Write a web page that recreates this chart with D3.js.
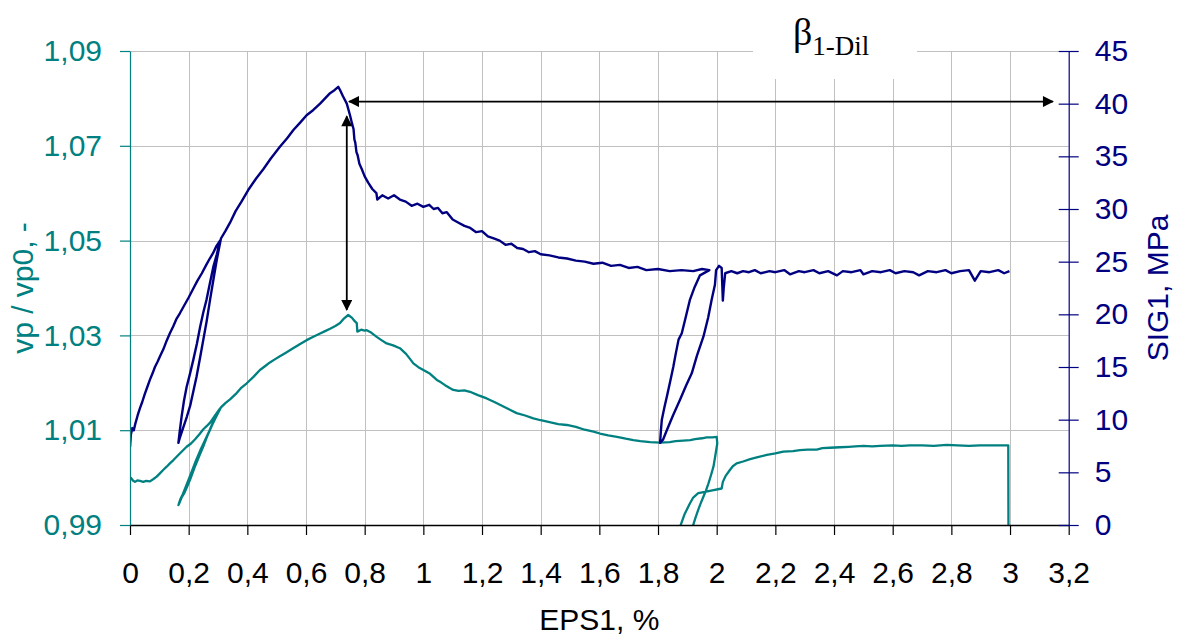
<!DOCTYPE html>
<html>
<head>
<meta charset="utf-8">
<script src="https://cdn.jsdelivr.net/npm/d3@7"></script>
<style>
  html, body { margin: 0; padding: 0; background: #fff; }
  svg { display: block; }
  text { font-family: "Liberation Sans", Arial, sans-serif; }
  text.serif, text.serif tspan { font-family: "Liberation Serif", "Times New Roman", serif; }
</style>
</head>
<body>
<svg id="chart" width="1181" height="637"></svg>
<script>
// Axis ticks
const epsTicks = [0, 0.2, 0.4, 0.6, 0.8, 1, 1.2, 1.4, 1.6, 1.8, 2, 2.2, 2.4, 2.6, 2.8, 3, 3.2];
const vpTicks = [0.99, 1.01, 1.03, 1.05, 1.07, 1.09];
const sigTicks = [0, 5, 10, 15, 20, 25, 30, 35, 40, 45];

// SIG1 [MPa] against EPS1 [%], including the two unload/reload loops
const sig1Curve = [
  [0, 7.4], [0.003, 8.6], [0.008, 9.2], [0.013, 9.0], [0.018, 9.6], [0.026, 10.4], [0.034, 11.1],
  [0.042, 11.7], [0.05, 12.4], [0.059, 13.1], [0.068, 13.8], [0.077, 14.4], [0.085, 15.0],
  [0.094, 15.5], [0.102, 16.0], [0.114, 16.7], [0.125, 17.5], [0.136, 18.2], [0.148, 18.9],
  [0.159, 19.6], [0.17, 20.1], [0.18, 20.6], [0.19, 21.1], [0.2, 21.6], [0.215, 22.4],
  [0.23, 23.2], [0.245, 23.9], [0.26, 24.7], [0.272, 25.3], [0.283, 25.8], [0.295, 26.5], [0.307, 27.0],
  [0.296, 25.7], [0.284, 24.5], [0.272, 22.9], [0.261, 21.4], [0.25, 20.2], [0.239, 18.8],
  [0.228, 17.2], [0.216, 15.7], [0.204, 14.3], [0.193, 13.1], [0.184, 11.8], [0.176, 10.3],
  [0.17, 9.0], [0.165, 7.8],
  [0.169, 8.2], [0.182, 9.3], [0.194, 10.3], [0.205, 11.3], [0.216, 12.7], [0.227, 14.1],
  [0.239, 15.9], [0.25, 17.6], [0.261, 19.3], [0.273, 21.4], [0.285, 23.4], [0.296, 25.2], [0.31, 27.2],
  [0.325, 27.9], [0.341, 28.7], [0.36, 29.8], [0.38, 30.7], [0.403, 31.8], [0.43, 32.9],
  [0.455, 33.8], [0.48, 34.8], [0.511, 35.9], [0.535, 36.7], [0.557, 37.5], [0.58, 38.2],
  [0.602, 38.9], [0.625, 39.4], [0.648, 40.0], [0.665, 40.5], [0.682, 41.0], [0.698, 41.3],
  [0.71, 41.6], [0.716, 41.3], [0.726, 40.7], [0.739, 40.0], [0.75, 38.9], [0.757, 38.1],
  [0.762, 37.6], [0.765, 36.6], [0.768, 36.3], [0.772, 35.4], [0.776, 35.1], [0.782, 34.3],
  [0.79, 33.8], [0.8, 33.1], [0.812, 32.5], [0.826, 31.9], [0.84, 31.5], [0.843, 30.9],
  [0.86, 31.3], [0.88, 31.0], [0.9, 31.3], [0.92, 30.9], [0.94, 30.7], [0.96, 30.3],
  [0.98, 30.5], [1.0, 30.2], [1.02, 30.4], [1.035, 30.0], [1.05, 30.1], [1.065, 29.6],
  [1.08, 29.7], [1.1, 29.0], [1.12, 28.7], [1.14, 28.4], [1.16, 28.2], [1.18, 27.8],
  [1.2, 27.9], [1.22, 27.4], [1.24, 27.2], [1.26, 27.0], [1.28, 26.6], [1.3, 26.7],
  [1.32, 26.3], [1.34, 26.2], [1.36, 25.9], [1.38, 26.0], [1.4, 25.7], [1.43, 25.6],
  [1.46, 25.4], [1.49, 25.3], [1.52, 25.1], [1.55, 25.0], [1.58, 24.8], [1.61, 24.9],
  [1.64, 24.6], [1.67, 24.7], [1.7, 24.4], [1.73, 24.5], [1.76, 24.2], [1.8, 24.3],
  [1.84, 24.1], [1.88, 24.2], [1.92, 24.1], [1.95, 24.3], [1.975, 24.2], [1.943, 23.7],
  [1.925, 22.6], [1.909, 21.4], [1.895, 19.8], [1.881, 18.2], [1.87, 17.6], [1.86, 16.2],
  [1.852, 15.0], [1.842, 13.7], [1.831, 12.3], [1.822, 11.2], [1.813, 10.0], [1.81, 9.0], [1.807, 7.8],
  [1.817, 8.1], [1.83, 9.0], [1.851, 10.4], [1.875, 11.9], [1.895, 13.2], [1.915, 14.4],
  [1.933, 16.1], [1.955, 17.9], [1.971, 19.7], [1.983, 21.4], [1.994, 22.8], [1.998, 24.2],
  [2.008, 24.6], [2.017, 24.4], [2.021, 21.3], [2.024, 22.5], [2.029, 23.9],
  [2.05, 24.1], [2.07, 23.9], [2.09, 24.1], [2.11, 24.0], [2.13, 24.2], [2.15, 23.9],
  [2.18, 24.1], [2.2, 24.0], [2.23, 24.2], [2.25, 23.8], [2.28, 24.1], [2.3, 24.0],
  [2.33, 24.2], [2.35, 23.9], [2.38, 24.1], [2.41, 23.7], [2.43, 24.1], [2.46, 24.0],
  [2.49, 24.2], [2.5, 23.8], [2.53, 24.1], [2.56, 24.0], [2.59, 24.2], [2.61, 23.9],
  [2.64, 24.1], [2.67, 24.0], [2.69, 23.7], [2.72, 24.1], [2.75, 24.0], [2.78, 24.2],
  [2.8, 23.9], [2.83, 24.1], [2.86, 24.2], [2.88, 23.2], [2.9, 24.1], [2.93, 24.0],
  [2.96, 24.2], [2.98, 23.9], [2.998, 24.1]
];

// vp / vp0 [-] against EPS1 [%]
const vpCurve = [
  [0, 0.9995], [0.004, 0.9999], [0.01, 0.9994], [0.017, 0.9991], [0.025, 0.9994], [0.034, 0.9993],
  [0.045, 0.9991], [0.055, 0.9993], [0.068, 0.9992], [0.08, 0.9997], [0.091, 1.0002],
  [0.102, 1.0009], [0.113, 1.0016], [0.125, 1.0023], [0.136, 1.003], [0.148, 1.0037],
  [0.159, 1.0044], [0.175, 1.0054], [0.193, 1.0065], [0.208, 1.0072], [0.222, 1.0081],
  [0.236, 1.0091], [0.25, 1.0102], [0.262, 1.0109], [0.273, 1.0116], [0.29, 1.0131], [0.307, 1.0146],
  [0.3, 1.0139], [0.285, 1.012], [0.27, 1.0098], [0.255, 1.0078], [0.24, 1.0058], [0.225, 1.0036],
  [0.21, 1.0012], [0.195, 0.9988], [0.18, 0.9965], [0.172, 0.9955], [0.165, 0.9942],
  [0.168, 0.9946], [0.176, 0.9958], [0.184, 0.9966], [0.192, 0.9977], [0.205, 0.9996],
  [0.22, 1.0021], [0.235, 1.0044], [0.25, 1.0066], [0.265, 1.009], [0.28, 1.0111],
  [0.295, 1.013], [0.31, 1.0148],
  [0.325, 1.0157], [0.341, 1.0165], [0.36, 1.0176], [0.38, 1.019], [0.398, 1.0199],
  [0.42, 1.0212], [0.443, 1.0227], [0.46, 1.0235], [0.477, 1.0243], [0.495, 1.025],
  [0.511, 1.0256], [0.53, 1.0263], [0.556, 1.0273], [0.58, 1.0282], [0.602, 1.029],
  [0.625, 1.0297], [0.648, 1.0304], [0.665, 1.0309], [0.682, 1.0314], [0.7, 1.032],
  [0.716, 1.0326], [0.73, 1.0336], [0.744, 1.0343], [0.757, 1.0337], [0.766, 1.033],
  [0.773, 1.0326], [0.775, 1.0308], [0.788, 1.0312], [0.8, 1.031], [0.807, 1.0311],
  [0.822, 1.0306], [0.841, 1.0297], [0.857, 1.029], [0.875, 1.0283], [0.897, 1.0279],
  [0.92, 1.0273], [0.941, 1.0261], [0.955, 1.025], [0.966, 1.0241], [0.983, 1.0233],
  [1.0, 1.0227], [1.023, 1.0219], [1.046, 1.0206], [1.06, 1.0201], [1.074, 1.0195],
  [1.09, 1.0189], [1.102, 1.0185], [1.12, 1.0183], [1.14, 1.0184], [1.159, 1.0181],
  [1.186, 1.0174], [1.216, 1.0167], [1.244, 1.0159], [1.273, 1.015], [1.295, 1.0143],
  [1.318, 1.0136], [1.347, 1.0131], [1.375, 1.0125], [1.4, 1.0121], [1.43, 1.0117],
  [1.46, 1.0113], [1.489, 1.0111], [1.52, 1.0107], [1.55, 1.0101], [1.58, 1.0097],
  [1.602, 1.0093], [1.63, 1.0089], [1.66, 1.0086], [1.69, 1.0082], [1.716, 1.0079],
  [1.74, 1.0077], [1.773, 1.0075], [1.807, 1.0074], [1.84, 1.0075], [1.86, 1.0077],
  [1.886, 1.0078], [1.91, 1.0079], [1.926, 1.0081], [1.95, 1.0083], [1.966, 1.0085],
  [1.985, 1.0085], [2.0, 1.0086], [2.002, 1.0072], [1.995, 1.0045], [1.989, 1.0023],
  [1.98, 1.0004], [1.972, 0.9988], [1.963, 0.9972], [1.955, 0.996], [1.945, 0.9945],
  [1.937, 0.9932], [1.927, 0.9914], [1.918, 0.9896], [1.905, 0.987],
  [1.865, 0.987], [1.875, 0.9896], [1.89, 0.9922], [1.909, 0.9946], [1.92, 0.9958],
  [1.937, 0.9967], [1.96, 0.997], [1.985, 0.9973], [2.017, 0.9977], [2.021, 0.9991],
  [2.03, 1.0003], [2.045, 1.0016], [2.055, 1.0024], [2.068, 1.003], [2.09, 1.0034],
  [2.114, 1.0039], [2.14, 1.0043], [2.171, 1.0048], [2.2, 1.0051], [2.227, 1.0055],
  [2.26, 1.0056], [2.284, 1.0058], [2.31, 1.0059], [2.341, 1.0059], [2.36, 1.0062],
  [2.386, 1.0063], [2.42, 1.0064], [2.45, 1.0065], [2.472, 1.0066], [2.5, 1.0067],
  [2.53, 1.0066], [2.557, 1.0067], [2.6, 1.0068], [2.63, 1.0067], [2.659, 1.0068],
  [2.7, 1.0068], [2.74, 1.0067], [2.784, 1.0069], [2.82, 1.0068], [2.86, 1.0067],
  [2.898, 1.0068], [2.94, 1.0068], [2.994, 1.0068], [2.995, 0.98]
];

// Annotation arrows: peak stress level (horizontal) and stress/velocity link (vertical)
const peakArrowSig = 40.2;
const peakArrowEps = [0.747, 3.146];
const linkArrowEps = 0.739;
const linkArrowSigTop = 38.8;
const linkArrowVpBottom = 1.0354;

const NAVY = "#000080", TEAL = "#008080";
const margin = { left: 130, right: 1068.7, top: 51, bottom: 525 };

const svg = d3.select("#chart");
const x = d3.scaleLinear().domain([0, 3.2]).range([margin.left, margin.right]);
const yL = d3.scaleLinear().domain([0.99, 1.09]).range([margin.bottom, margin.top]);
const yR = d3.scaleLinear().domain([0, 45]).range([margin.bottom, margin.top]);

const comma = d => String(+d.toFixed(2)).replace(".", ",");
const comma2 = d => d.toFixed(2).replace(".", ",");

svg.append("rect").attr("width", 1181).attr("height", 637).attr("fill", "#fff");

// Grid
const grid = svg.append("g").attr("stroke", "#c0c0c0").attr("stroke-width", 1);
grid.selectAll("line.v").data(epsTicks.filter(d => d > 0 && d < 3.2)).join("line")
  .attr("x1", d => Math.round(x(d)) + 0.5).attr("x2", d => Math.round(x(d)) + 0.5)
  .attr("y1", margin.top).attr("y2", margin.bottom);
grid.selectAll("line.h").data(vpTicks.filter(d => d > 0.99)).join("line")
  .attr("x1", margin.left).attr("x2", margin.right)
  .attr("y1", d => Math.round(yL(d)) + 0.5).attr("y2", d => Math.round(yL(d)) + 0.5);

// Label panel
svg.append("rect").attr("x", 753).attr("y", 0).attr("width", 164).attr("height", 79).attr("fill", "#fff");

// Curves
svg.append("clipPath").attr("id", "plotClip").append("rect")
  .attr("x", margin.left).attr("y", margin.top)
  .attr("width", margin.right - margin.left).attr("height", margin.bottom - margin.top);

const plot = svg.append("g").attr("clip-path", "url(#plotClip)");
plot.append("path").datum(vpCurve)
  .attr("fill", "none").attr("stroke", TEAL).attr("stroke-width", 2.3).attr("stroke-linejoin", "round")
  .attr("d", d3.line().x(d => x(d[0])).y(d => yL(d[1])));
plot.append("path").datum(sig1Curve)
  .attr("fill", "none").attr("stroke", NAVY).attr("stroke-width", 2.4).attr("stroke-linejoin", "round")
  .attr("d", d3.line().x(d => x(d[0])).y(d => yR(d[1])));

// Axes
const xAxis = svg.append("g").attr("transform", `translate(0,${margin.bottom})`)
  .call(d3.axisBottom(x).tickValues(epsTicks).tickFormat(comma).tickSize(10).tickSizeOuter(0).tickPadding(27));
xAxis.select(".domain").attr("stroke", "#000").attr("stroke-width", 1.5);
xAxis.selectAll(".tick line").attr("stroke", "#000").attr("stroke-width", 1.2);
xAxis.selectAll("text").attr("fill", "#000").attr("font-size", 30);

const lAxis = svg.append("g").attr("transform", `translate(${margin.left},0)`)
  .call(d3.axisLeft(yL).tickValues(vpTicks).tickFormat(comma2).tickSize(10).tickSizeOuter(0).tickPadding(18));
lAxis.select(".domain").attr("stroke", TEAL).attr("stroke-width", 1.2);
lAxis.selectAll(".tick line").attr("stroke", TEAL).attr("stroke-width", 1.2);
lAxis.selectAll("text").attr("fill", TEAL).attr("font-size", 30);

const rAxis = svg.append("g").attr("transform", `translate(${margin.right},0)`)
  .call(d3.axisRight(yR).tickValues(sigTicks).tickSize(10).tickSizeOuter(0).tickPadding(16));
rAxis.select(".domain").attr("stroke", NAVY).attr("stroke-width", 1.2);
rAxis.selectAll(".tick line").attr("stroke", NAVY).attr("stroke-width", 1.2).attr("x1", -10);
rAxis.selectAll("text").attr("fill", NAVY).attr("font-size", 30);

// Axis titles
svg.append("text").attr("x", (margin.left + margin.right) / 2).attr("y", 630)
  .attr("text-anchor", "middle").attr("font-size", 30).attr("fill", "#000").text("EPS1, %");
svg.append("text").attr("transform", `translate(33,${(margin.top + margin.bottom) / 2}) rotate(-90)`)
  .attr("text-anchor", "middle").attr("font-size", 30).attr("fill", TEAL).text("vp / vp0, -");
svg.append("text").attr("transform", `translate(1168,${(margin.top + margin.bottom) / 2}) rotate(-90)`)
  .attr("text-anchor", "middle").attr("font-size", 30).attr("fill", NAVY).text("SIG1, MPa");

// Arrows
const defs = svg.append("defs");
defs.append("marker").attr("id", "arrowHead").attr("viewBox", "0 0 10 10")
  .attr("refX", 9).attr("refY", 5).attr("markerWidth", 12).attr("markerHeight", 11)
  .attr("markerUnits", "userSpaceOnUse").attr("orient", "auto-start-reverse")
  .append("path").attr("d", "M0,0 L10,5 L0,10 Z").attr("fill", "#000");

svg.append("line")
  .attr("x1", x(peakArrowEps[0])).attr("x2", x(peakArrowEps[1]))
  .attr("y1", yR(peakArrowSig)).attr("y2", yR(peakArrowSig))
  .attr("stroke", "#000").attr("stroke-width", 1.8)
  .attr("marker-start", "url(#arrowHead)").attr("marker-end", "url(#arrowHead)");
svg.append("line")
  .attr("x1", x(linkArrowEps)).attr("x2", x(linkArrowEps))
  .attr("y1", yR(linkArrowSigTop)).attr("y2", yL(linkArrowVpBottom))
  .attr("stroke", "#000").attr("stroke-width", 1.8)
  .attr("marker-start", "url(#arrowHead)").attr("marker-end", "url(#arrowHead)");

// Dilatancy label
const beta = svg.append("text").attr("class", "serif").attr("x", 793).attr("y", 45).attr("fill", "#000");
beta.append("tspan").attr("font-size", 38).text("β");
beta.append("tspan").attr("font-size", 27).attr("dy", 10).text("1-Dil");
</script>
</body>
</html>
